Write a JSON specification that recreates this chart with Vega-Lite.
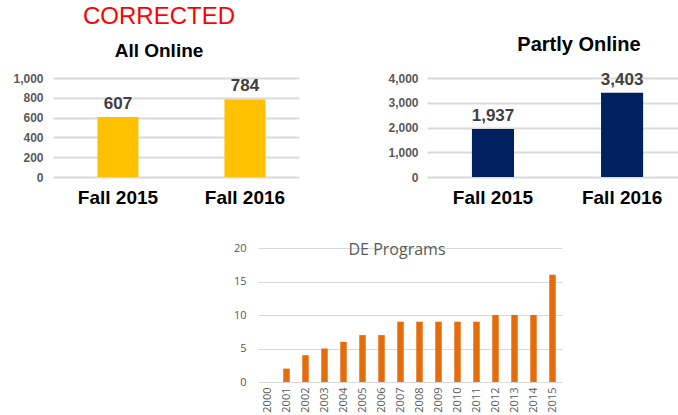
{
  "$schema": "https://vega.github.io/schema/vega-lite/v6.json",
  "padding": {"left": 12, "top": 5, "right": 0, "bottom": 0},
  "background": "white",
  "bounds": "flush",
  "spacing": 170,
  "config": {"view": {"stroke": null}},
  "vconcat": [
    {
      "hconcat": [
        {
          "width": 246,
          "height": 99,
          "title": {"text": "CORRECTED", "subtitle": "All Online", "color": "#FF0000", "fontSize": 24, "fontWeight": "normal", "font": "Liberation Sans", "subtitleFont": "Liberation Sans", "subtitleFontSize": 19, "subtitleFontWeight": "bold", "subtitleColor": "#000000", "subtitlePadding": 13, "offset": 11, "dx": -17},
          "data": {"values": [{"term": "Fall 2015", "count": 607}, {"term": "Fall 2016", "count": 784}]},
          "encoding": {
            "x": {"field": "term", "type": "nominal", "scale": {"paddingInner": 0.677, "paddingOuter": 0.307, "align": 0.57}, "axis": {"title": null, "labelAngle": 0, "ticks": false, "domain": false, "labelFont": "Liberation Sans", "labelFontSize": 19, "labelFontWeight": "bold", "labelColor": "#000000", "labelPadding": 11}},
            "y": {"field": "count", "type": "quantitative", "scale": {"domain": [0, 1000]}, "axis": {"title": null, "values": [0, 200, 400, 600, 800, 1000], "format": ",.0f", "ticks": false, "domain": false, "labelFont": "Liberation Sans", "labelFontSize": 12, "labelFontWeight": "bold", "labelColor": "#595959", "labelPadding": 10, "gridColor": "#D9D9D9", "gridWidth": 2}}
          },
          "layer": [
            {"mark": {"type": "bar", "color": "#FFC000"}},
            {"mark": {"type": "text", "baseline": "alphabetic", "dy": -8, "font": "Liberation Sans", "fontSize": 17, "fontWeight": "bold", "color": "#404040"}, "encoding": {"text": {"field": "count", "type": "quantitative", "format": ",.0f"}}}
          ]
        },
        {
          "width": 252,
          "height": 99,
          "title": {"text": "Partly Online", "color": "#000000", "fontSize": 20, "fontWeight": "bold", "font": "Liberation Sans", "offset": 16, "dx": 26},
          "data": {"values": [{"term": "Fall 2015", "count": 1937}, {"term": "Fall 2016", "count": 3403}]},
          "encoding": {
            "x": {"field": "term", "type": "nominal", "scale": {"paddingInner": 0.674, "paddingOuter": 0.313, "align": 0.556}, "axis": {"title": null, "labelAngle": 0, "ticks": false, "domain": false, "labelFont": "Liberation Sans", "labelFontSize": 19, "labelFontWeight": "bold", "labelColor": "#000000", "labelPadding": 11}},
            "y": {"field": "count", "type": "quantitative", "scale": {"domain": [0, 4000]}, "axis": {"title": null, "values": [0, 1000, 2000, 3000, 4000], "format": ",.0f", "ticks": false, "domain": false, "labelFont": "Liberation Sans", "labelFontSize": 12, "labelFontWeight": "bold", "labelColor": "#595959", "labelPadding": 9, "gridColor": "#D9D9D9", "gridWidth": 2}}
          },
          "layer": [
            {"mark": {"type": "bar", "color": "#002060"}},
            {"mark": {"type": "text", "baseline": "alphabetic", "dy": -8, "font": "Liberation Sans", "fontSize": 17, "fontWeight": "bold", "color": "#404040"}, "encoding": {"text": {"field": "count", "type": "quantitative", "format": ",.0f"}}}
          ]
        }
      ],
      "spacing": 128,
      "bounds": "flush"
    },
    {
      "hconcat": [
        {
          "width": 205,
          "height": 134,
          "data": {"values": [{}]},
          "mark": {"type": "point", "opacity": 0}
        },
        {
          "width": 304,
          "height": 134,
          "title": {"text": "DE Programs", "color": "#595959", "fontSize": 16, "fontWeight": "normal", "font": "Open Sans", "offset": -16, "dx": -13},
          "data": {"values": [
            {"year": "2000", "programs": 0},
            {"year": "2001", "programs": 2},
            {"year": "2002", "programs": 4},
            {"year": "2003", "programs": 5},
            {"year": "2004", "programs": 6},
            {"year": "2005", "programs": 7},
            {"year": "2006", "programs": 7},
            {"year": "2007", "programs": 9},
            {"year": "2008", "programs": 9},
            {"year": "2009", "programs": 9},
            {"year": "2010", "programs": 9},
            {"year": "2011", "programs": 9},
            {"year": "2012", "programs": 10},
            {"year": "2013", "programs": 10},
            {"year": "2014", "programs": 10},
            {"year": "2015", "programs": 16}
          ]},
          "mark": {"type": "bar", "color": "#E46C0A"},
          "encoding": {
            "x": {"field": "year", "type": "nominal", "scale": {"paddingInner": 0.66, "paddingOuter": 0.33}, "axis": {"title": null, "labelAngle": -90, "ticks": false, "domain": true, "domainColor": "#D9D9D9", "labelFont": "Open Sans", "labelFontSize": 11, "labelColor": "#595959", "labelPadding": 5}},
            "y": {"field": "programs", "type": "quantitative", "scale": {"domain": [0, 20]}, "axis": {"title": null, "values": [0, 5, 10, 15, 20], "ticks": false, "domain": false, "labelFont": "Open Sans", "labelFontSize": 11, "labelColor": "#595959", "labelPadding": 12, "gridColor": "#D9D9D9"}}
          }
        }
      ],
      "spacing": 0,
      "bounds": "flush"
    }
  ]
}
